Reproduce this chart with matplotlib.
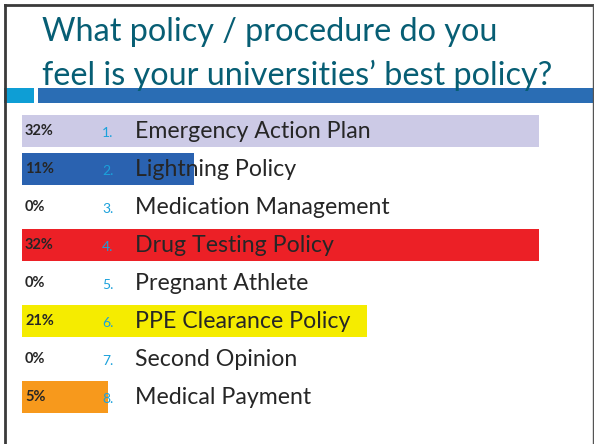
import matplotlib
matplotlib.use('Agg')
import matplotlib.pyplot as plt
from matplotlib.transforms import blended_transform_factory
from matplotlib.patches import Rectangle
from matplotlib.lines import Line2D

title_lines = ['What policy / procedure do you',
               'feel is your universities\u2019 best policy?']
options = ['Emergency Action Plan', 'Lightning Policy', 'Medication Management',
           'Drug Testing Policy', 'Pregnant Athlete', 'PPE Clearance Policy',
           'Second Opinion', 'Medical Payment']
votes = [6, 2, 0, 6, 0, 4, 0, 1]
pct_labels = ['32%', '11%', '0%', '32%', '0%', '21%', '0%', '5%']
bar_colors = ['#cccae6', '#2a62b0', '#ffffff', '#ec2026', '#ffffff', '#f5ec00',
              '#ffffff', '#f7991c']

total = sum(votes)
pcts = [v / total * 100 for v in votes]

W, H = 594, 444
fig = plt.figure(figsize=(W / 100, H / 100), dpi=100)
fig.patch.set_facecolor('white')

# slide frame and title rule
fig.add_artist(Line2D([5 / W, 5 / W], [0, 1 - 5 / H], color='#3a3a3a', lw=2))
fig.add_artist(Line2D([5 / W, 1], [1 - 5 / H, 1 - 5 / H], color='#3a3a3a', lw=2))
fig.add_artist(Line2D([592.5 / W, 592.5 / W], [0, 1 - 5 / H], color='#555555', lw=1))
fig.add_artist(Rectangle((4 / W, 1 - 103 / H), 30 / W, 15 / H,
                         transform=fig.transFigure, color='#0e9ed5', lw=0))
fig.add_artist(Rectangle((38 / W, 1 - 103 / H), (W - 38) / W, 15 / H,
                         transform=fig.transFigure, color='#2a6db4', lw=0))

for k, line in enumerate(title_lines):
    fig.text(42 / W, 1 - (41 + 44 * k) / H, line, color='#075e74', fontsize=23.3,
             family='Lato', va='baseline', ha='left', zorder=3)

# bars
top, bottom = 112, 416
ax = fig.add_axes([22 / W, 1 - bottom / H, (W - 22) / W, (bottom - top) / H])
y = list(range(len(options)))
scale = (539 - 22) / max(pcts)
ax.barh(y, pcts, height=0.84, color=bar_colors)
ax.set_xlim(0, (W - 22) / scale)
ax.set_ylim(len(options) - 0.5, -0.5)
ax.axis('off')

tr = blended_transform_factory(fig.transFigure, ax.transData)
for i, (lab, p) in enumerate(zip(options, pct_labels)):
    ax.text(25 / W, i, p, transform=tr, fontsize=10.5, fontweight='bold',
            family='Lato', color='#262626', va='center', ha='left')
    ax.text(102 / W, i + 0.05, f'{i + 1}.', transform=tr, fontsize=10,
            family='Lato', color='#1ba1db', va='center', ha='left')
    ax.text(135 / W, i, lab, transform=tr, fontsize=16.7,
            family='Lato', color='#262626', va='center', ha='left')

fig.savefig('out.png', dpi=100)
